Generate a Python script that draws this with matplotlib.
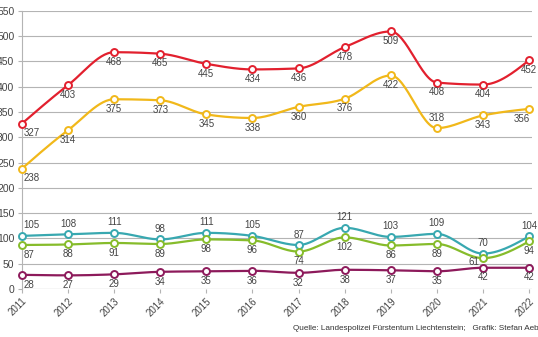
import matplotlib
matplotlib.use('Agg')
import matplotlib.pyplot as plt
import numpy as np

plt.rcParams['font.family'] = ['Liberation Sans', 'DejaVu Sans']

years = list(range(2011, 2023))

red = [327, 403, 468, 465, 445, 434, 436, 478, 509, 408, 404, 452]
yellow = [238, 314, 375, 373, 345, 338, 360, 376, 422, 318, 343, 356]
teal = [105, 108, 111, 98, 111, 105, 87, 121, 103, 109, 70, 104]
green = [87, 88, 91, 89, 98, 96, 74, 102, 86, 89, 61, 94]
purple = [28, 27, 29, 34, 35, 36, 32, 38, 37, 35, 42, 42]

source = 'Quelle: Landespolizei Fürstentum Liechtenstein;   Grafik: Stefan Aeb'


def monotone(x, y, n=30):
    # monotone cubic (like d3 curveMonotoneX)
    x = np.asarray(x, float)
    y = np.asarray(y, float)
    h = np.diff(x)
    s = np.diff(y) / h
    t = np.zeros_like(y)
    for i in range(1, len(y) - 1):
        p = (s[i - 1] * h[i] + s[i] * h[i - 1]) / (h[i - 1] + h[i])
        t[i] = (np.sign(s[i - 1]) + np.sign(s[i])) * min(abs(s[i - 1]), abs(s[i]), 0.5 * abs(p))
    t[0] = (3 * s[0] - t[1]) / 2
    t[-1] = (3 * s[-1] - t[-2]) / 2
    xs, ys = [], []
    for i in range(len(h)):
        u = np.linspace(0, 1, n)
        h00 = 2 * u**3 - 3 * u**2 + 1
        h10 = u**3 - 2 * u**2 + u
        h01 = -2 * u**3 + 3 * u**2
        h11 = u**3 - u**2
        xs.append(x[i] + u * h[i])
        ys.append(h00 * y[i] + h10 * h[i] * t[i] + h01 * y[i + 1] + h11 * h[i] * t[i + 1])
    return np.concatenate(xs), np.concatenate(ys)


fig = plt.figure(figsize=(5.38, 3.37), dpi=100)
ax = fig.add_axes([22 / 538, 0.1424, 510 / 538, 0.8258])
ax.set_xlim(2011, 2022.065)
ax.set_ylim(0, 550)

grid_c = '#b4b4b4'
ax.set_yticks(range(0, 551, 50))
ax.grid(axis='y', color=grid_c, lw=0.8)
ax.set_axisbelow(True)
for sp in ['top', 'right', 'bottom']:
    ax.spines[sp].set_visible(False)
ax.spines['left'].set_color(grid_c)
ax.spines['left'].set_linewidth(0.8)
ax.axhline(0, color=grid_c, lw=0.8, zorder=0)

ax.set_xticks(years)
ax.set_xticklabels([str(y) for y in years], rotation=45, ha='right', va='top',
                   rotation_mode='anchor')
ax.tick_params(axis='x', length=3, width=0.8, color=grid_c, pad=2,
               labelsize=7, labelcolor='#444444')
ax.tick_params(axis='y', length=3, width=0.8, color=grid_c, pad=2.5,
               labelsize=7.5, labelcolor='#444444')

series = [
    (red, '#e2202e', 'b'),
    (yellow, '#f1b81a', 'b'),
    (teal, '#38a8b0', 'a'),
    (green, '#86bc2b', 'b'),
    (purple, '#8d1a5b', 'b'),
]
# per-point label placement overrides
special = {(1, 9): 'a', (3, 10): 'l'}

for k, (vals, col, pos) in enumerate(series):
    xs, ys = monotone(years, vals)
    ax.plot(xs, ys, color=col, lw=1.6, clip_on=False, zorder=3)
    ax.plot(years, vals, 'o', ms=5, mfc='white', mec=col, mew=1.4,
            clip_on=False, zorder=4)
    for i, (yr, v) in enumerate(zip(years, vals)):
        p = special.get((k, i), pos)
        dx = 0
        ha = 'center'
        if i == 0:
            ha = 'left'
            dx = 1
        if i == len(years) - 1 and k == 1:
            dx = -5
        if p == 'a':
            dy = 7.5
        elif p == 'l':
            dx, dy = -6.5, -3
        else:
            dy = -7
        ax.annotate(str(v), (yr, v), xytext=(dx, dy), textcoords='offset points',
                    ha=ha, va='center', fontsize=7, color='#444444', zorder=5)

fig.text(293 / 538, 1 - 329 / 337, source, fontsize=5.85, color='#333333',
         ha='left', va='center')

fig.savefig('out.png', dpi=100)
